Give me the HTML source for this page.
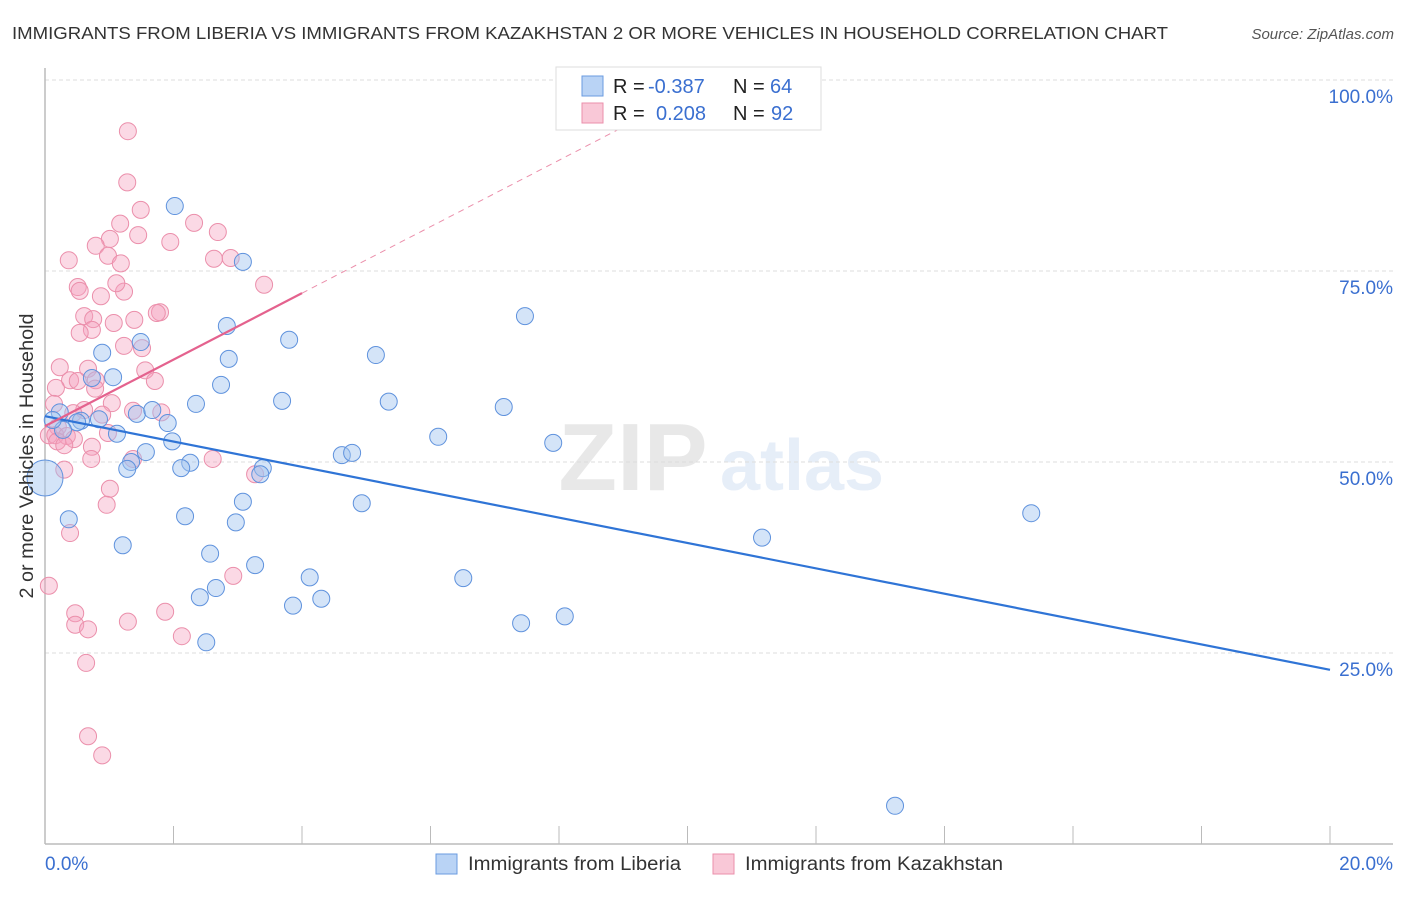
<!DOCTYPE html>
<html><head><meta charset="utf-8"><style>
body{margin:0;background:#fff;font-family:"Liberation Sans",sans-serif;}
svg text{font-family:"Liberation Sans",sans-serif;}
</style></head><body>
<svg id="c" width="1406" height="892" xmlns="http://www.w3.org/2000/svg">
<text x="12" y="39" font-size="17.5" fill="#333" textLength="1156" lengthAdjust="spacingAndGlyphs">IMMIGRANTS FROM LIBERIA VS IMMIGRANTS FROM KAZAKHSTAN 2 OR MORE VEHICLES IN HOUSEHOLD CORRELATION CHART</text>
<text x="1394" y="39" font-size="15" fill="#555" font-style="italic" text-anchor="end">Source: ZipAtlas.com</text>
<g opacity="0.13">
<text x="633" y="490" font-size="96" font-family="Liberation Serif" fill="#555" text-anchor="middle" font-weight="bold">ZIP</text>
<text x="802" y="490" font-size="72" fill="#4a7fd0" text-anchor="middle" font-weight="bold">atlas</text>
</g>
<g id="grid"></g>
<g id="axes"></g>
<g id="pts"></g>
<g id="lines"></g>
<text transform="translate(33,456) rotate(-90)" font-size="19" fill="#333" text-anchor="middle" textLength="285" lengthAdjust="spacingAndGlyphs">2 or more Vehicles in Household</text>
<g>
<rect x="556" y="67" width="265" height="63" fill="#fff" stroke="#ddd"/>
<rect x="582" y="76" width="21" height="20" fill="#b9d3f5" stroke="#6a9be0"/>
<rect x="582" y="103" width="21" height="20" fill="#f9c8d7" stroke="#eb8fab"/>
<text x="613" y="93" font-size="20" fill="#222">R = <tspan fill="#3a6fd0" x="648">-0.387</tspan><tspan x="733">N = </tspan><tspan fill="#3a6fd0" x="770">64</tspan></text>
<text x="613" y="120" font-size="20" fill="#222">R = <tspan fill="#3a6fd0" x="656">0.208</tspan><tspan x="733">N = </tspan><tspan fill="#3a6fd0" x="771">92</tspan></text>
</g>
<g>
<rect x="436" y="854" width="21" height="20" fill="#b9d3f5" stroke="#6a9be0"/>
<text x="468" y="870" font-size="19" fill="#333" textLength="213" lengthAdjust="spacingAndGlyphs">Immigrants from Liberia</text>
<rect x="713" y="854" width="21" height="20" fill="#f9c8d7" stroke="#eb8fab"/>
<text x="745" y="870" font-size="19" fill="#333" textLength="258" lengthAdjust="spacingAndGlyphs">Immigrants from Kazakhstan</text>
</g>
</svg>
<script>
const xTicks=[0,20];
const yTicks=[25,50,75,100];
const blueX=[2.02,3.08,2.83,3.80,0.89,2.86,5.15,7.47,1.49,0.73,1.06,2.74,3.69,2.35,5.35,7.14,1.43,1.67,1.91,0.23,0.84,0.56,1.12,1.98,1.57,6.12,7.91,4.62,4.78,2.26,2.12,1.34,1.28,3.39,3.35,2.97,3.08,4.93,2.18,0.37,15.35,1.21,11.16,2.57,3.27,6.51,4.12,2.66,2.41,3.86,4.30,7.41,8.09,2.51,13.23,0.50,0.28,0.12];
const blueY=[83.5,76.2,67.8,66.0,64.3,63.5,64.0,69.1,65.7,61.0,61.1,60.1,58.0,57.6,57.9,57.2,56.3,56.8,55.1,56.5,55.6,55.4,53.7,52.7,51.3,53.3,52.5,50.9,51.2,49.9,49.2,50.0,49.1,49.2,48.4,42.1,44.8,44.6,42.9,42.5,43.3,39.1,40.1,38.0,36.5,34.8,34.9,33.5,32.3,31.2,32.1,28.9,29.8,26.4,5.0,55.2,54.2,55.5];
const bigX=[0.0], bigY=[47.9];
const pinkX=[1.29,1.28,1.49,1.17,2.32,1.45,2.69,1.01,0.79,1.95,0.98,0.37,1.18,2.63,2.89,3.41,0.51,0.54,0.87,1.23,1.11,1.79,1.74,1.39,0.61,1.07,0.75,0.73,0.54,1.51,1.23,0.23,1.56,0.67,0.39,0.51,0.79,1.71,0.78,0.17,0.14,1.04,1.37,1.81,0.61,0.44,0.89,0.20,0.06,0.16,0.34,0.45,0.98,0.19,0.30,0.73,0.72,1.37,2.61,3.27,0.30,1.01,0.96,0.39,0.06,2.93,0.47,1.87,0.47,0.67,1.29,2.13,0.64,0.67,0.89];
const pinkY=[93.3,86.6,83.0,81.2,81.3,79.7,80.1,79.2,78.3,78.8,77.0,76.4,76.0,76.6,76.7,73.2,72.9,72.4,71.7,72.3,73.4,69.6,69.5,68.6,69.1,68.2,68.7,67.3,66.9,64.9,65.2,62.4,62.0,62.2,60.7,60.6,60.7,60.6,59.6,59.7,57.6,57.7,56.7,56.5,56.8,56.4,56.2,54.6,53.5,53.5,53.4,53.0,53.8,52.7,52.2,52.0,50.4,50.4,50.4,48.4,49.0,46.5,44.4,40.7,33.8,35.1,30.2,30.4,28.7,28.1,29.1,27.2,23.7,14.1,11.6];
const blueTrend=[56.0,22.8];
const pinkTrend=[54.7,72.1];
const X=v=>45+v*64.25, Y=v=>844-v*7.64;
const NS="http://www.w3.org/2000/svg";
function mk(tag,attrs,parent){const e=document.createElementNS(NS,tag);for(const k in attrs)e.setAttribute(k,attrs[k]);document.getElementById(parent).appendChild(e);return e;}
yTicks.forEach(t=>{
 const g=mk('line',{x1:45,x2:1393,y1:Y(t),y2:Y(t),stroke:'#ddd','stroke-dasharray':'4,3'},'grid');
 
 
 const l=mk('text',{x:1393,y:Y(t)+23,'font-size':19,fill:'#3a6fd0','text-anchor':'end'},'grid');
 l.textContent=t.toFixed(1)+'%';
 
 
});
const ax=mk('line',{x1:45,x2:1393,y1:844,y2:844,stroke:'#bbb','stroke-width':1.5},'axes');


const ay=mk('line',{x1:45,x2:45,y1:68,y2:844,stroke:'#bbb','stroke-width':1.5},'axes');


for(let i=1;i<=10;i++){const tk=mk('line',{x1:X(i*2),x2:X(i*2),y1:826,y2:844,stroke:'#bbb'},'axes');
 
 }
xTicks.forEach((t,i)=>{const l=mk('text',{x:i?1393:45,y:870,'font-size':19,fill:'#3a6fd0','text-anchor':i?'end':'start'},'axes');
 l.textContent=t.toFixed(1)+'%';
 
 });
pinkX.forEach((x,i)=>{const c=mk('circle',{cx:X(x),cy:Y(pinkY[i]),r:8.5,fill:'rgba(244,160,190,0.4)',stroke:'#eb8fab','stroke-width':1},'pts');
 
 });
blueX.forEach((x,i)=>{const c=mk('circle',{cx:X(x),cy:Y(blueY[i]),r:8.5,fill:'rgba(160,195,240,0.45)',stroke:'#5f92dd','stroke-width':1},'pts');
 
 });
bigX.forEach((x,i)=>{const c=mk('circle',{cx:X(x),cy:Y(bigY[i]),r:18,fill:'rgba(160,195,240,0.45)',stroke:'#5f92dd','stroke-width':1},'pts');
 
 });
const bt=mk('line',{x1:X(0),y1:Y(blueTrend[0]),x2:X(20),y2:Y(blueTrend[1]),stroke:'#2f74d6','stroke-width':2.2},'lines');


const slope=(pinkTrend[1]-pinkTrend[0])/4, xEnd=(100-pinkTrend[0])/slope;
const pd=mk('line',{x1:X(4),y1:Y(pinkTrend[1]),x2:X(xEnd),y2:Y(100),stroke:'#eb8fab','stroke-width':1,'stroke-dasharray':'6,5'},'lines');


const pt=mk('line',{x1:X(0),y1:Y(pinkTrend[0]),x2:X(4),y2:Y(pinkTrend[1]),stroke:'#e4628e','stroke-width':2.2},'lines');


</script>
</body></html>
